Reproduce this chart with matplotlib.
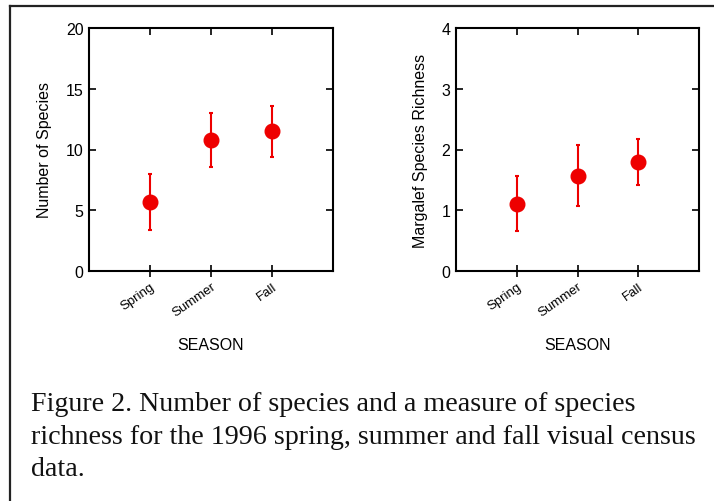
import matplotlib
matplotlib.use("Agg")
import matplotlib.pyplot as plt
from matplotlib.lines import Line2D

seasons = ["Spring", "Summer", "Fall"]
num_species = [5.65, 10.8, 11.5]
num_species_err = [2.3, 2.2, 2.1]
margalef = [1.11, 1.57, 1.80]
margalef_err = [0.45, 0.50, 0.38]
caption_lines = [
    "Figure 2. Number of species and a measure of species",
    "richness for the 1996 spring, summer and fall visual census",
    "data.",
]

W, H = 714, 502
fig = plt.figure(figsize=(W / 100, H / 100), dpi=100)
plt.rcParams['font.family'] = ['Liberation Sans', 'DejaVu Sans']

red = "#ee0000"


def px_axes(x0, y0, x1, y1):
    return fig.add_axes([x0 / W, 1 - y1 / H, (x1 - x0) / W, (y1 - y0) / H])


def style(ax, ymax, yticks, ylabel):
    ax.set_xlim(0, 4)
    ax.set_ylim(0, ymax)
    ax.set_xticks([1, 2, 3])
    ax.set_xticklabels(seasons, rotation=35, ha="right", rotation_mode="anchor", fontsize=9.5)
    ax.set_yticks(yticks)
    ax.set_yticklabels([str(t) for t in yticks], fontsize=11.5)
    for s in ax.spines.values():
        s.set_linewidth(1.5)
    ax.tick_params(axis="y", direction="in", length=5, width=1.2, right=True, pad=4)
    ax.tick_params(axis="x", direction="inout", length=9, width=1.2, top=False, pad=2)
    sec = ax.secondary_xaxis("top")
    sec.set_xticks([1, 2, 3])
    sec.set_xticklabels([])
    sec.tick_params(direction="in", length=5, width=1.2)
    sec.spines["top"].set_visible(False)
    ax.set_xlabel("SEASON", fontsize=11.5, labelpad=13)
    ax.set_ylabel(ylabel, fontsize=11.5, labelpad=10)


x = [1, 2, 3]
ax1 = px_axes(89, 29, 333, 272)
ax1.errorbar(x, num_species, yerr=num_species_err, fmt="o", color=red, ms=10.5,
             elinewidth=1.5, capsize=1.5, capthick=1.5, zorder=3)
style(ax1, 20, [0, 5, 10, 15, 20], "Number of Species")

ax2 = px_axes(456, 29, 699, 272)
ax2.errorbar(x, margalef, yerr=margalef_err, fmt="o", color=red, ms=10.5,
             elinewidth=1.5, capsize=1.5, capthick=1.5, zorder=3)
style(ax2, 4, [0, 1, 2, 3, 4], "Margalef Species Richness")

# frame lines
fig.add_artist(Line2D([10 / W, 1], [1 - 7 / H, 1 - 7 / H], color="#222222", lw=1.6,
                      transform=fig.transFigure))
fig.add_artist(Line2D([10 / W, 10 / W], [0, 1 - 7 / H], color="#222222", lw=1.6,
                      transform=fig.transFigure))

baselines = [411, 444, 476]
for line, b in zip(caption_lines, baselines):
    fig.text(31 / W, 1 - b / H, line, fontsize=20.2, va="baseline", ha="left",
             family=["Liberation Serif", "DejaVu Serif"], color="#111111")

fig.savefig("out.png", dpi=100)
